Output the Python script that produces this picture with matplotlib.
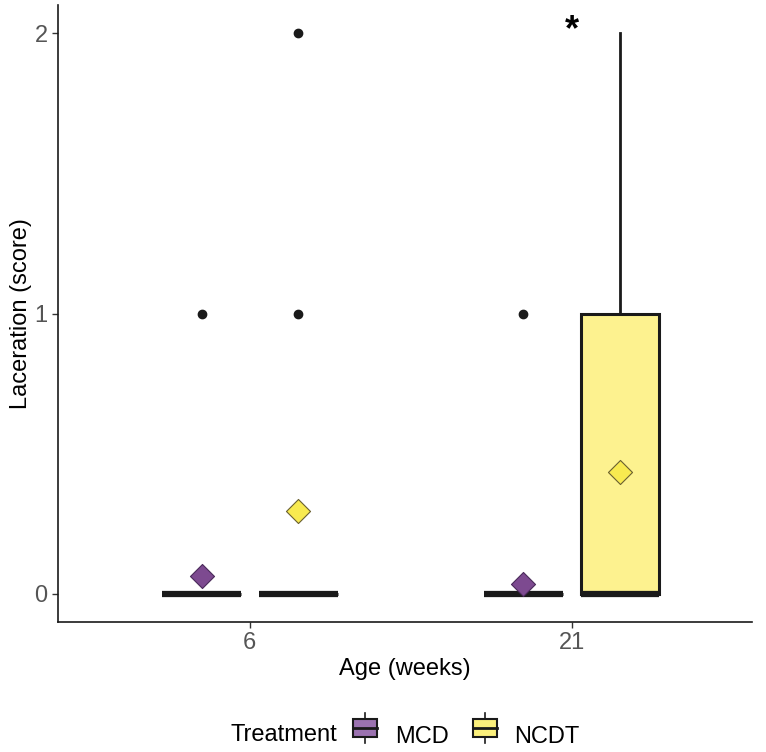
import matplotlib.pyplot as plt
from matplotlib.patches import Rectangle
from matplotlib.lines import Line2D
from matplotlib.legend_handler import HandlerBase
from matplotlib.offsetbox import HPacker

plt.rcParams['font.family'] = ['Liberation Sans', 'DejaVu Sans']

# summary stats
ages = ['6', '21']
treatments = ['MCD', 'NCDT']
q1 = {'MCD': [0, 0], 'NCDT': [0, 0]}
med = {'MCD': [0, 0], 'NCDT': [0, 0]}
q3 = {'MCD': [0, 0], 'NCDT': [0, 1]}
whi = {'MCD': [0, 0], 'NCDT': [0, 2]}
fliers = {'MCD': [[1], [1]], 'NCDT': [[1, 2], []]}
means = {'MCD': [0.064, 0.036], 'NCDT': [0.296, 0.435]}

box_fill = {'MCD': '#c9aed6', 'NCDT': '#fdf28f'}
mean_col = {'MCD': '#7d4a90', 'NCDT': '#f8ea50'}
key_fill = {'MCD': '#9b72b0', 'NCDT': '#fbf07c'}

offset = 0.15
width = 0.245
fs = 17

fig = plt.figure(figsize=(7.66, 7.52), dpi=100)
ax = fig.add_axes([0.0757, 0.173, 0.906, 0.82])

for j, t in enumerate(treatments):
    sign = -1 if j == 0 else 1
    stats = []
    for i in range(len(ages)):
        stats.append(dict(q1=q1[t][i], med=med[t][i], q3=q3[t][i],
                          whislo=q1[t][i], whishi=whi[t][i],
                          fliers=fliers[t][i]))
    pos = [i + 1 + sign * offset for i in range(len(ages))]
    ax.bxp(stats, positions=pos, widths=width, patch_artist=True,
           showcaps=False,
           boxprops=dict(facecolor=box_fill[t], edgecolor='#1a1a1a', linewidth=2.2),
           medianprops=dict(color='#1a1a1a', linewidth=4.5, solid_capstyle='butt'),
           whiskerprops=dict(color='#1a1a1a', linewidth=2),
           flierprops=dict(marker='o', markerfacecolor='#1a1a1a',
                           markeredgecolor='#1a1a1a', markersize=6))
    ax.scatter(pos, means[t], marker='D', s=150, color=mean_col[t],
               edgecolor='#6a6030' if t == 'NCDT' else '#4a2a5a',
               linewidth=0.8, zorder=5)

ax.text(2, 2.01, '*', ha='center', va='center', fontsize=26, fontweight='bold')

ax.set_xlim(0.404, 2.56)
ax.set_ylim(-0.1, 2.1)
ax.set_xticks([1, 2])
ax.set_xticklabels(ages)
ax.set_yticks([0, 1, 2])
for s in ['top', 'right']:
    ax.spines[s].set_visible(False)
for s in ['left', 'bottom']:
    ax.spines[s].set_linewidth(1.2)
    ax.spines[s].set_color('#1a1a1a')
ax.tick_params(colors='#333333', labelsize=fs, length=4, width=1)
ax.tick_params(axis='both', labelcolor='#555555')
ax.set_xlabel('Age (weeks)', fontsize=fs, labelpad=3)
ax.set_ylabel('Laceration (score)', fontsize=fs, labelpad=2)


class BoxKey(HandlerBase):
    def create_artists(self, legend, orig, xd, yd, w, h, fs, trans):
        r = Rectangle((xd + w * 0.1, yd + h * 0.1), w * 0.8, h * 0.8,
                      facecolor=orig.get_facecolor(), edgecolor='#1a1a1a',
                      linewidth=1.5, transform=trans)
        m = Line2D([xd + w * 0.1, xd + w * 0.9], [yd + h / 2] * 2,
                   color='#1a1a1a', linewidth=2, transform=trans)
        t = Line2D([xd + w / 2] * 2, [yd + h * 0.9, yd + h * 1.15],
                   color='#1a1a1a', linewidth=1.2, transform=trans)
        b = Line2D([xd + w / 2] * 2, [yd - h * 0.15, yd + h * 0.1],
                   color='#1a1a1a', linewidth=1.2, transform=trans)
        return [r, m, t, b]


handles = [Rectangle((0, 0), 1, 1, facecolor=key_fill[t]) for t in treatments]
leg = fig.legend(handles, treatments, loc='center', bbox_to_anchor=(0.529, 0.022),
                 ncol=2, frameon=False, fontsize=fs, title='Treatment',
                 title_fontsize=fs, handler_map={Rectangle: BoxKey()},
                 handlelength=1.3, handleheight=1.1, handletextpad=0.6,
                 columnspacing=0.9)
title_box = leg._legend_title_box
handle_box = leg._legend_handle_box
leg._legend_box._children = [HPacker(pad=0, sep=9, align='center',
                                     children=[title_box, handle_box])]

fig.savefig('out.png', dpi=100)
